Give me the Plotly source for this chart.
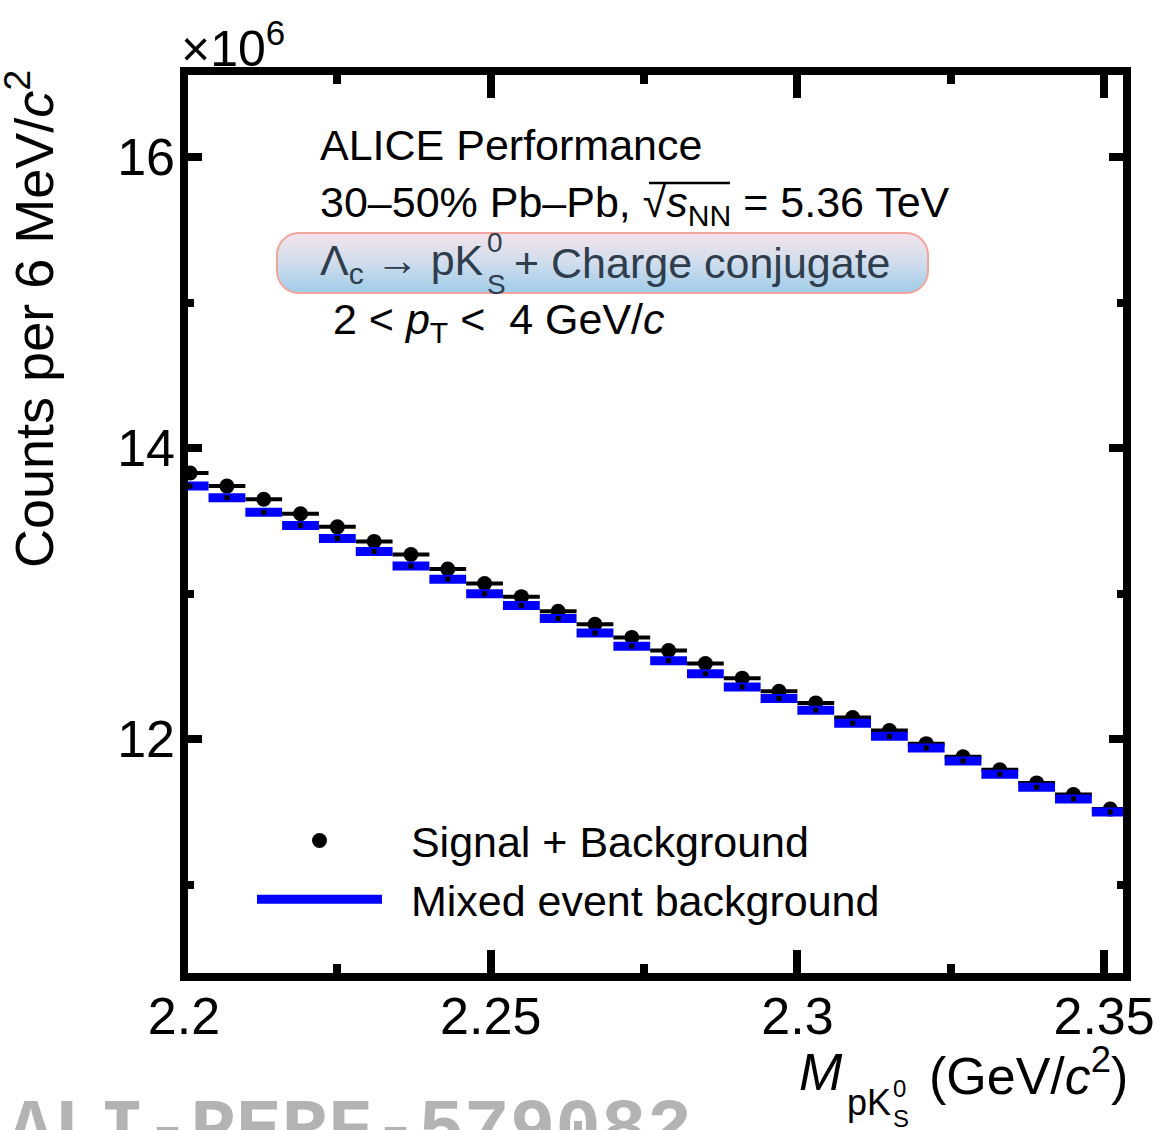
import math
import plotly.graph_objects as go

# ---------------- data (counts in units of 10^6 per 6 MeV/c^2) ----------------
mass_bins = [2.201, 2.207, 2.213, 2.219, 2.225, 2.231, 2.237, 2.243, 2.249, 2.255,
             2.261, 2.267, 2.273, 2.279, 2.285, 2.291, 2.297, 2.303, 2.309, 2.315,
             2.321, 2.327, 2.333, 2.339, 2.345, 2.351]
signal_plus_background = [13.83, 13.74, 13.65, 13.55, 13.46, 13.36, 13.27, 13.17, 13.07, 12.98,
                          12.88, 12.79, 12.70, 12.61, 12.52, 12.42, 12.33, 12.25, 12.15, 12.06,
                          11.97, 11.88, 11.79, 11.70, 11.62, 11.52]
mixed_event_background = [13.74, 13.66, 13.56, 13.47, 13.38, 13.29, 13.19, 13.10, 13.00, 12.92,
                           12.83, 12.73, 12.64, 12.54, 12.45, 12.36, 12.28, 12.20, 12.11, 12.02,
                           11.94, 11.85, 11.76, 11.67, 11.59, 11.50]
half_bin = [0.003] * len(mass_bins)
x_tickvals = [2.2, 2.25, 2.3, 2.35]
x_ticktext = ["2.2", "2.25", "2.3", "2.35"]
y_tickvals = [12, 14, 16]
y_ticktext = ["12", "14", "16"]

# ---------------- layout geometry ----------------
W, H = 1162, 1130
L, R, T, B = 184, 35, 71, 153
PW = W - L - R
PH = H - T - B
PX_PER_X = 6134.0          # pixels per GeV/c^2
X_RANGE = [2.2, 2.2 + PW / PX_PER_X]
Y_RANGE = [10.366, 16.593]

FONT = "Liberation Sans, Arial, Helvetica, sans-serif"


def fx(p):
    return (p - L) / PW


def fy(p):
    return (H - B - p) / PH


fig = go.Figure()

fig.add_trace(go.Scatter(
    x=mass_bins, y=signal_plus_background, mode="markers",
    name="\u00a0\u00a0Signal + Background",
    marker=dict(color="black", size=15, symbol="circle"),
    error_x=dict(type="data", array=half_bin, symmetric=True, color="black",
                 thickness=4, width=0),
))
fig.add_trace(go.Scatter(
    x=mass_bins, y=mixed_event_background, mode="markers",
    name="Mixed event background", showlegend=False,
    marker=dict(color="black", size=5, symbol="square"),
    error_x=dict(type="data", array=half_bin, symmetric=True, color="#0000ff",
                 thickness=9, width=0),
))
# legend entry for the mixed-event background (thick blue line)
fig.add_trace(go.Scatter(
    x=[None], y=[None], mode="lines", name="\u00a0\u00a0Mixed event background",
    line=dict(color="#0000ff", width=9),
))

shapes = []
# gradient rounded box behind the decay-channel label
bx0, bx1, by0, by1, rad = 277, 928, 233, 293, 22
top_c = (243, 228, 236)
mid_c = (212, 222, 236)
bot_c = (160, 204, 234)


def xoff(y):
    if y < by0 + rad:
        d = by0 + rad - y
    elif y > by1 - rad:
        d = y - (by1 - rad)
    else:
        d = 0.0
    d = min(d, rad)
    return rad - (rad * rad - d * d) ** 0.5


def lerp(a, b, t):
    return tuple(int(round(a[i] + (b[i] - a[i]) * t)) for i in range(3))


NS = 30
hstep = (by1 - by0) / NS
for k in range(NS):
    ya = by0 + k * hstep
    yb = min(by1, ya + hstep + 0.6)
    t = (k + 0.5) / NS
    c = lerp(top_c, mid_c, t / 0.45) if t < 0.45 else lerp(mid_c, bot_c, (t - 0.45) / 0.55)
    ys = [ya + (yb - ya) * j / 4 for j in range(5)]
    pts = [(bx0 + xoff(y), y) for y in ys] + [(bx1 - xoff(y), y) for y in reversed(ys)]
    path = "M " + " L ".join(f"{fx(px_):.5f},{fy(py_):.5f}" for px_, py_ in pts) + " Z"
    shapes.append(dict(type="path", path=path, xref="paper", yref="paper",
                       fillcolor=f"rgb{c}", line=dict(width=0), layer="above"))

# outline
opts = []
corners = [(bx1 - rad, by0 + rad, -90, 0), (bx1 - rad, by1 - rad, 0, 90),
           (bx0 + rad, by1 - rad, 90, 180), (bx0 + rad, by0 + rad, 180, 270)]
for cx, cy, a0, a1 in corners:
    for j in range(13):
        a = math.radians(a0 + (a1 - a0) * j / 12)
        opts.append((cx + rad * math.cos(a), cy + rad * math.sin(a)))
opath = "M " + " L ".join(f"{fx(a):.5f},{fy(b):.5f}" for a, b in opts) + " Z"
shapes.append(dict(type="path", path=opath, xref="paper", yref="paper",
                   line=dict(color="#f3a59c", width=2), layer="above"))

# sqrt overline
shapes.append(dict(type="line", xref="paper", yref="paper",
                   x0=fx(649), x1=fx(730), y0=fy(183), y1=fy(183),
                   line=dict(color="black", width=2.5), layer="above"))

# frame
shapes.append(dict(type="rect", xref="paper", yref="paper", x0=0, x1=1, y0=0, y1=1,
                   line=dict(color="black", width=8), layer="above"))


def ann(text, x, y, size=43, xanchor="left", yanchor="middle", color="black", angle=0,
        family=FONT):
    return dict(text=text, x=fx(x), y=fy(y), xref="paper", yref="paper",
                xanchor=xanchor, yanchor=yanchor, showarrow=False, textangle=angle,
                font=dict(family=family, size=size, color=color))


annotations = [
    ann("ALICE Performance", 318, 145),
    ann("30–50% Pb–Pb, √<i>s</i><sub>NN</sub> = 5.36 TeV", 318, 205),
    ann("Λ<sub>c</sub> → pK", 318, 263, color="#2f3d4c"),
    ann("0", 485, 243, size=28, color="#2f3d4c"),
    ann("S", 485, 284, size=28, color="#2f3d4c"),
    ann("+ Charge conjugate", 512, 263, color="#2f3d4c"),
    ann("2 &lt; <i>p</i><sub>T</sub> &lt;&nbsp; 4 GeV/<i>c</i>", 331, 322),
    ann("×10<sup>6</sup>", 179, 45, size=50),
    ann("Counts per 6 MeV/<i>c</i><sup>2</sup>", 30, 68, size=54, xanchor="center",
        yanchor="top", angle=-90),
    ann("<i>M</i>", 797, 1072, size=52),
    ann("pK", 845, 1102, size=36),
    ann("0", 891, 1088, size=24),
    ann("S", 891, 1118, size=24),
    ann("(GeV/<i>c</i><sup>2</sup>)", 1130, 1072, size=52, xanchor="right"),
    ann("<b>ALI-PERF-579082</b>", 6, 1086, size=76, yanchor="top", color="#b3b3b3",
        family="Liberation Mono, Courier New, monospace"),
]

fig.update_layout(
    width=W, height=H,
    margin=dict(l=L, r=R, t=T, b=B, autoexpand=False),
    paper_bgcolor="white", plot_bgcolor="white",
    font=dict(family=FONT, color="black"),
    shapes=shapes, annotations=annotations,
    showlegend=True,
    legend=dict(x=fx(252), y=fy(806), xanchor="left", yanchor="top",
                font=dict(family=FONT, size=43), bgcolor="rgba(0,0,0,0)",
                itemwidth=125, tracegroupgap=0),
    xaxis=dict(range=X_RANGE, showgrid=False, zeroline=False, showline=False,
               tickmode="array", tickvals=x_tickvals, ticktext=x_ticktext,
               ticks="inside", ticklen=27, tickwidth=8, tickcolor="black",
               mirror="ticks", tickfont=dict(size=52, family=FONT),
               ticklabelstandoff=4,
               minor=dict(ticks="inside", dtick=0.025, tick0=2.2, ticklen=13,
                          tickwidth=8, tickcolor="black", showgrid=False)),
    yaxis=dict(range=Y_RANGE, showgrid=False, zeroline=False, showline=False,
               tickmode="array", tickvals=y_tickvals, ticktext=y_ticktext,
               ticks="inside", ticklen=18, tickwidth=8, tickcolor="black",
               mirror="ticks", tickfont=dict(size=52, family=FONT),
               ticklabelstandoff=8,
               minor=dict(ticks="inside", dtick=1, tick0=0, ticklen=10,
                          tickwidth=8, tickcolor="black", showgrid=False)),
)

fig.write_html("out.html")
